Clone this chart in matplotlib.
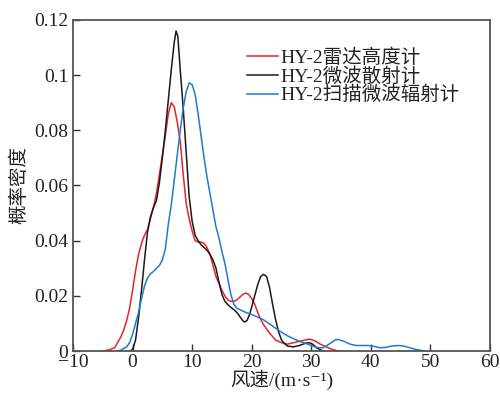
import matplotlib
matplotlib.use("Agg")
import matplotlib.pyplot as plt

plt.rcParams['font.family'] = ['Liberation Serif', 'DejaVu Serif', 'Noto Sans CJK SC']
plt.rcParams['axes.unicode_minus'] = True

# ---- data ----
red_x = [-5.0, -4.0, -3.0, -2.0, -1.5, -1.0, -0.5, 0.0, 0.5, 1.0, 1.5, 2.0, 2.5, 3.0, 3.5,
         4.0, 4.5, 5.0, 5.5, 6.0, 6.5, 7.0, 7.5, 8.0, 8.5, 9.0, 9.5, 10.0, 10.5, 11.0,
         11.5, 12.0, 12.5, 13.0, 13.5, 14.0, 14.5, 15.0, 15.5, 16.0, 16.5, 17.0, 17.5,
         18.0, 18.5, 19.0, 19.5, 20.0, 20.5, 21.0, 21.5, 22.0, 23.0, 24.0, 25.0, 26.0,
         27.0, 28.0, 29.0, 29.7, 30.5, 31.5, 32.5, 33.5, 34.5]
red_y = [0.0, 0.0004, 0.0012, 0.005, 0.0075, 0.011, 0.0155, 0.022, 0.029, 0.035, 0.039,
         0.042, 0.044, 0.048, 0.052, 0.057, 0.064, 0.071, 0.078, 0.086, 0.090, 0.0885,
         0.083, 0.076, 0.064, 0.0535, 0.048, 0.0435, 0.040, 0.0395, 0.0395, 0.039, 0.0375,
         0.035, 0.031, 0.027, 0.0245, 0.022, 0.020, 0.0185, 0.018, 0.018, 0.0185, 0.0195,
         0.0205, 0.021, 0.0205, 0.019, 0.017, 0.014, 0.0115, 0.0095, 0.0065, 0.004, 0.003,
         0.0025, 0.003, 0.0035, 0.004, 0.0043, 0.0038, 0.0025, 0.0015, 0.0006, 0.0]

black_x = [-0.5, 0.0, 0.5, 1.0, 1.5, 2.0, 2.5, 3.0, 3.5, 4.0, 4.5, 5.0, 5.5, 6.0, 6.5, 7.0,
           7.3, 7.6, 8.0, 8.5, 9.0, 9.5, 10.0, 10.5, 11.0, 11.5, 12.0, 12.5, 13.0, 13.5,
           14.0, 14.5, 15.0, 15.5, 16.0, 16.5, 17.0, 17.5, 18.0, 18.5, 18.8, 19.2, 19.6,
           20.0, 20.5, 21.0, 21.5, 22.0, 22.5, 23.0, 23.5, 24.0, 24.5, 25.0, 25.5, 26.0,
           27.0, 28.0, 29.0, 29.5, 30.0, 30.5, 31.0, 32.0]
black_y = [0.0, 0.0005, 0.004, 0.012, 0.022, 0.033, 0.043, 0.0486, 0.052, 0.0545, 0.061,
           0.070, 0.080, 0.091, 0.102, 0.112, 0.116, 0.114, 0.102, 0.088, 0.072, 0.056,
           0.047, 0.042, 0.040, 0.0385, 0.0375, 0.0365, 0.035, 0.033, 0.030, 0.025, 0.0205,
           0.018, 0.0168, 0.0158, 0.015, 0.014, 0.0125, 0.011, 0.0105, 0.011, 0.013, 0.016,
           0.020, 0.024, 0.027, 0.0278, 0.027, 0.023, 0.017, 0.0115, 0.007, 0.004, 0.0027,
           0.0018, 0.0015, 0.002, 0.0028, 0.003, 0.0028, 0.002, 0.001, 0.0]

blue_x = [-2.5, -2.0, -1.0, -0.5, 0.0, 0.5, 1.0, 1.5, 2.0, 2.5, 3.0, 3.5, 4.0, 4.5, 5.0,
          5.5, 6.0, 6.5, 7.0, 7.5, 8.0, 8.5, 9.0, 9.5, 10.0, 10.5, 11.0, 11.5, 12.0, 12.5,
          13.0, 13.5, 14.0, 14.5, 15.0, 15.5, 16.0, 16.5, 17.0, 17.5, 18.0, 19.0, 20.0,
          21.0, 22.0, 23.0, 24.0, 25.0, 26.0, 27.0, 28.0, 29.0, 30.0, 31.0, 32.0, 33.0,
          34.0, 34.5, 35.5, 36.5, 37.5, 38.5, 39.5, 40.5, 41.5, 42.5, 43.5, 44.5, 45.5,
          46.5, 47.5, 48.5, 49.2]
blue_y = [0.0, 0.0003, 0.0015, 0.003, 0.006, 0.010, 0.014, 0.019, 0.0235, 0.0265, 0.028,
          0.0288, 0.030, 0.031, 0.033, 0.037, 0.046, 0.053, 0.062, 0.071, 0.080, 0.088,
          0.094, 0.0972, 0.0965, 0.093, 0.086, 0.078, 0.070, 0.063, 0.057, 0.051, 0.045,
          0.041, 0.036, 0.0318, 0.026, 0.0205, 0.017, 0.0155, 0.015, 0.014, 0.0132, 0.0123,
          0.0113, 0.0098, 0.0083, 0.0068, 0.0055, 0.0045, 0.0035, 0.0028, 0.002, 0.0012,
          0.0012, 0.0025, 0.004, 0.0042, 0.0035, 0.0025, 0.002, 0.002, 0.002, 0.0017,
          0.0012, 0.0013, 0.0018, 0.002, 0.0018, 0.0012, 0.0006, 0.0002, 0.0]

labels = ['HY-2雷达高度计', 'HY-2微波散射计', 'HY-2扫描微波辐射计']
colors = ['#e8232b', '#1a1a1a', '#1f7ccc']
xticks = [-10, 0, 10, 20, 30, 40, 50, 60]
yticks = [0, 0.02, 0.04, 0.06, 0.08, 0.1, 0.12]
ytick_labels = ['0', '0.02', '0.04', '0.06', '0.08', '0.1', '0.12']

fig = plt.figure(figsize=(5.0, 3.96), dpi=100)
ax = fig.add_axes([0.146, 0.1136, 0.834, 0.836])

for xs, ys, lab, c in zip([red_x, black_x, blue_x], [red_y, black_y, blue_y], labels, colors):
    ax.plot(xs, ys, color=c, lw=1.1, label=lab)

ax.set_xlim(-10, 60)
ax.set_ylim(0, 0.12)
ax.set_xticks(xticks)
ax.set_xticklabels(['\u2212' + str(-t) if t < 0 else str(t) for t in xticks])
ax.set_yticks(yticks)
ax.set_yticklabels(ytick_labels)
ax.tick_params(direction='in', length=5, width=1.0, colors='#333333',
               labelsize=14, labelcolor='#222222', top=False, right=False)
ax.tick_params(axis='x', pad=2)
for s in ax.spines.values():
    s.set_color('#555555')
    s.set_linewidth(1.3)

ax.set_xlabel('风速/(m·s\u207b\u00b9)', fontsize=14, color='#222222', labelpad=-1)
ax.set_ylabel('概率密度', fontsize=14, color='#222222', labelpad=4)

leg = ax.legend(loc='upper left', bbox_to_anchor=(0.385, 0.955), frameon=False,
                fontsize=14, handlelength=1.6, handletextpad=0.1, labelspacing=0.0,
                borderpad=0.2)
for t in leg.get_texts():
    t.set_color('#222222')

fig.savefig('out.png', dpi=100)
